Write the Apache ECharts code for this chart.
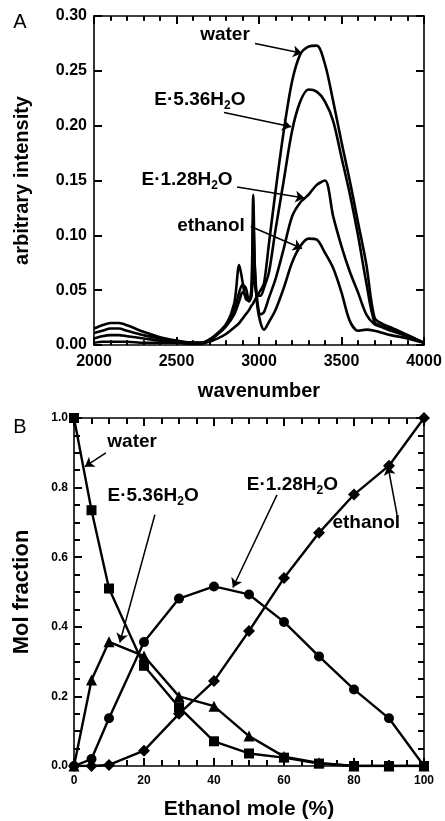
<!DOCTYPE html>
<html>
<head>
<meta charset="utf-8">
<script src="https://cdn.jsdelivr.net/npm/echarts@6/dist/echarts.min.js"></script>
<style>
  html, body { margin: 0; padding: 0; background: #fff; }
  #chart { width: 445px; height: 821px; }
</style>
</head>
<body>
<div id="chart"></div>
<script>
// panel A: spectra
const wavenumber = [2000, 2050, 2100, 2150, 2200, 2300, 2400, 2500, 2600, 2650, 2700, 2750, 2800, 2850, 2880, 2900, 2920, 2940, 2955, 2965, 2975, 2990, 3010, 3030, 3060, 3100, 3150, 3200, 3250, 3300, 3350, 3400, 3450, 3500, 3550, 3600, 3650, 3700, 3750, 3800, 3900, 4000];
const waterSpec = [0.015, 0.018, 0.020, 0.020, 0.018, 0.012, 0.007, 0.004, 0.002, 0.002, 0.003, 0.006, 0.010, 0.016, 0.020, 0.024, 0.028, 0.032, 0.036, 0.038, 0.041, 0.045, 0.050, 0.056, 0.092, 0.140, 0.195, 0.240, 0.265, 0.272, 0.273, 0.256, 0.222, 0.185, 0.150, 0.112, 0.074, 0.025, 0.019, 0.016, 0.009, 0.002];
const e536Spec = [0.011, 0.013, 0.015, 0.015, 0.013, 0.009, 0.006, 0.003, 0.002, 0.002, 0.005, 0.010, 0.017, 0.028, 0.040, 0.048, 0.045, 0.040, 0.045, 0.080, 0.055, 0.045, 0.045, 0.052, 0.066, 0.105, 0.150, 0.195, 0.222, 0.233, 0.231, 0.222, 0.204, 0.171, 0.138, 0.100, 0.057, 0.021, 0.017, 0.015, 0.009, 0.002];
const e128Spec = [0.006, 0.008, 0.009, 0.009, 0.008, 0.006, 0.004, 0.003, 0.002, 0.002, 0.005, 0.011, 0.019, 0.032, 0.048, 0.055, 0.052, 0.040, 0.048, 0.115, 0.070, 0.040, 0.028, 0.030, 0.043, 0.060, 0.088, 0.117, 0.130, 0.137, 0.146, 0.150, 0.117, 0.090, 0.067, 0.048, 0.028, 0.019, 0.016, 0.013, 0.008, 0.002];
const ethanolSpec = [0.002, 0.003, 0.003, 0.003, 0.003, 0.002, 0.002, 0.002, 0.001, 0.001, 0.004, 0.010, 0.018, 0.038, 0.073, 0.058, 0.042, 0.040, 0.055, 0.137, 0.070, 0.035, 0.020, 0.014, 0.021, 0.032, 0.052, 0.075, 0.090, 0.097, 0.096, 0.084, 0.070, 0.048, 0.022, 0.013, 0.014, 0.013, 0.011, 0.009, 0.006, 0.002];

// panel B: mol fractions
const ethanolMole = [0, 5, 10, 20, 30, 40, 50, 60, 70, 80, 90, 100];
const waterFrac = [1.0, 0.735, 0.51, 0.288, 0.169, 0.071, 0.036, 0.024, 0.007, 0, 0, 0];
const e536Frac = [0, 0.247, 0.357, 0.316, 0.20, 0.172, 0.086, 0.027, 0.009, 0, 0, 0];
const e128Frac = [0, 0.02, 0.137, 0.356, 0.481, 0.516, 0.493, 0.414, 0.315, 0.22, 0.137, 0];
const ethanolFrac = [0, 0, 0.003, 0.044, 0.15, 0.244, 0.388, 0.54, 0.67, 0.78, 0.863, 1.0];

// axis ranges [min, max, major step, minor step]
const axisAx = [2000, 4000, 500, 100];
const axisAy = [0, 0.30, 0.05, 0];
const axisBx = [0, 100, 20, 5];
const axisBy = [0, 1.0, 0.2, 0.05];

const FONT = "'Liberation Sans', Arial, sans-serif";
const INK = '#000';

function pairs(xs, ys) { return xs.map((x, i) => [x, ys[i]]); }

function steps(r, step) {
  const out = [];
  if (!step) return out;
  const n = Math.round((r[1] - r[0]) / step);
  for (let i = 0; i <= n; i++) out.push(r[0] + i * step);
  return out;
}

// arrows plus tick segments share one markLine per series
function marks(arrowList, tickList) {
  const data = arrowList.map(a => [{ coord: a[0] }, { coord: a[1], symbol: 'arrow' }])
    .concat((tickList || []).map(t => [{ coord: t[0], lineStyle: { width: t[2] } }, { coord: t[1], symbol: 'none' }]));
  return {
    silent: true,
    symbol: ['none', 'arrow'],
    symbolSize: 9,
    precision: 6,
    label: { show: false },
    lineStyle: { color: INK, width: 1.5, type: 'solid' },
    emphasis: { disabled: true },
    data
  };
}

// inward ticks on all four sides, lengths given in pixels and turned into data units
function tickSegs(rx, ry, pxX, pxY, majLen, minLen, yMinor) {
  const segs = [];
  [[steps(rx, rx[2]), majLen], [steps(rx, rx[3]), minLen]].forEach(([vals, len]) => {
    vals.forEach(v => {
      const d = len / pxY;
      segs.push([[v, ry[0]], [v, ry[0] + d], 2]);
      segs.push([[v, ry[1]], [v, ry[1] - d], 2]);
    });
  });
  [[steps(ry, ry[2]), majLen], [steps(ry, yMinor ? ry[3] : 0), minLen]].forEach(([vals, len]) => {
    vals.forEach(v => {
      const d = len / pxX;
      segs.push([[rx[0], v], [rx[0] + d, v], 2]);
      segs.push([[rx[1], v], [rx[1] - d, v], 2]);
    });
  });
  return segs;
}

function axis(grid, pos, r, labelOpt, nameOpt) {
  return Object.assign({
    type: 'value', gridIndex: grid, position: pos, min: r[0], max: r[1], interval: r[2],
    axisLine: { show: true, onZero: false, lineStyle: { color: INK, width: 1.6 } },
    axisTick: { show: true, inside: true, length: 8, lineStyle: { color: INK, width: 2 } },
    minorTick: { show: r[3] > 0, splitNumber: r[3] ? Math.round(r[2] / r[3]) : 5, length: 5,
      lineStyle: { color: INK, width: 1.6 } },
    splitLine: { show: false },
    axisLabel: labelOpt || { show: false }
  }, nameOpt || {});
}

let chart = echarts.init(document.getElementById('chart'));

const labA = { show: true, color: INK, fontFamily: FONT, fontWeight: 'bold', fontSize: 16, formatter: v => String(v) };
const labB = { show: true, color: INK, fontFamily: FONT, fontWeight: 'bold', fontSize: 12, formatter: v => String(v) };
const nameStyle = size => ({ color: INK, fontFamily: FONT, fontWeight: 'bold', fontSize: size });

const specLine = { color: INK, width: 2.6 };

// plot boxes: A 330 x 329 px, B 350 x 349 px
const pxA = [330 / (axisAx[1] - axisAx[0]), 329 / (axisAy[1] - axisAy[0])];
const pxB = [350 / (axisBx[1] - axisBx[0]), 349 / (axisBy[1] - axisBy[0])];
const ticksA = tickSegs(axisAx, axisAy, pxA[0], pxA[1], 7, 4, false);
const ticksB = tickSegs(axisBx, axisBy, pxB[0], pxB[1], 8, 6, true);

let option = {
  animation: false,
  backgroundColor: '#fff',
  grid: [
    { left: 94, right: 21, top: 16, bottom: 476 },
    { left: 74, right: 21, top: 418, bottom: 54 }
  ],
  xAxis: [
    axis(0, 'bottom', axisAx, Object.assign({ margin: 9 }, labA),
      { name: 'wavenumber', nameLocation: 'middle', nameGap: 36, nameTextStyle: nameStyle(20) }),
    axis(1, 'bottom', axisBx, Object.assign({ margin: 9 }, labB),
      { name: 'Ethanol mole (%)', nameLocation: 'middle', nameGap: 33, nameTextStyle: nameStyle(21) }),
    axis(0, 'top', axisAx),
    axis(1, 'top', axisBx)
  ],
  yAxis: [
    axis(0, 'left', axisAy, Object.assign({ margin: 7 }, labA, { formatter: v => v.toFixed(2) }),
      { name: 'arbitrary intensity', nameLocation: 'middle', nameGap: 62, nameTextStyle: nameStyle(20) }),
    axis(1, 'left', axisBy, Object.assign({ margin: 6 }, labB, { formatter: v => v.toFixed(1) }),
      { name: 'Mol fraction', nameLocation: 'middle', nameGap: 41, nameTextStyle: nameStyle(22) }),
    axis(0, 'right', axisAy),
    axis(1, 'right', axisBy)
  ],
  series: [
    { name: 'water', type: 'line', xAxisIndex: 0, yAxisIndex: 0, data: pairs(wavenumber, waterSpec),
      symbol: 'none', smooth: 0.3, lineStyle: specLine,
      markLine: marks([[[2976, 0.275], [3261, 0.266]]], ticksA) },
    { name: 'E·5.36H2O', type: 'line', xAxisIndex: 0, yAxisIndex: 0, data: pairs(wavenumber, e536Spec),
      symbol: 'none', smooth: 0.3, lineStyle: specLine,
      markLine: marks([[[2788, 0.212], [3195, 0.199]]]) },
    { name: 'E·1.28H2O', type: 'line', xAxisIndex: 0, yAxisIndex: 0, data: pairs(wavenumber, e128Spec),
      symbol: 'none', smooth: 0.3, lineStyle: specLine,
      markLine: marks([[[2867, 0.144], [3275, 0.134]]]) },
    { name: 'ethanol', type: 'line', xAxisIndex: 0, yAxisIndex: 0, data: pairs(wavenumber, ethanolSpec),
      symbol: 'none', smooth: 0.3, lineStyle: specLine,
      markLine: marks([[[2950, 0.108], [3261, 0.088]]]) },

    { name: 'water B', type: 'line', xAxisIndex: 1, yAxisIndex: 1, data: pairs(ethanolMole, waterFrac),
      symbol: 'rect', symbolSize: 10, itemStyle: { color: INK }, lineStyle: { color: INK, width: 2.4 },
      markLine: marks([[[9.1, 0.90], [3.1, 0.86]]], ticksB) },
    { name: 'E536 B', type: 'line', xAxisIndex: 1, yAxisIndex: 1, data: pairs(ethanolMole, e536Frac),
      symbol: 'triangle', symbolSize: 11, itemStyle: { color: INK }, lineStyle: { color: INK, width: 2.4 },
      markLine: marks([[[23.1, 0.722], [13.1, 0.355]]]) },
    { name: 'E128 B', type: 'line', xAxisIndex: 1, yAxisIndex: 1, data: pairs(ethanolMole, e128Frac),
      symbol: 'circle', symbolSize: 10, itemStyle: { color: INK }, lineStyle: { color: INK, width: 2.4 },
      markLine: marks([[[58, 0.779], [45.4, 0.513]]]) },
    { name: 'ethanol B', type: 'line', xAxisIndex: 1, yAxisIndex: 1, data: pairs(ethanolMole, ethanolFrac),
      symbol: 'diamond', symbolSize: 12, itemStyle: { color: INK }, lineStyle: { color: INK, width: 2.4 },
      markLine: marks([[[92.3, 0.722], [89.7, 0.862]]]) }
  ]
};
chart.setOption(option);

// text labels, placed in data coordinates
const RICH = {
  m: { fontFamily: FONT, fontWeight: 'bold', fontSize: 19, color: INK },
  s: { fontFamily: FONT, fontWeight: 'bold', fontSize: 12, color: INK, padding: [12, 0, 0, 0] }
};
const notesA = [
  ['{m|water}', [2794, 0.283]],
  ['{m|E·5.36H}{s|2}{m|O}', [2642, 0.224]],
  ['{m|E·1.28H}{s|2}{m|O}', [2564, 0.151]],
  ['{m|ethanol}', [2709, 0.109]]
];
const notesB = [
  ['{m|water}', [16.6, 0.933]],
  ['{m|E·5.36H}{s|2}{m|O}', [22.6, 0.777]],
  ['{m|E·1.28H}{s|2}{m|O}', [62.4, 0.808]],
  ['{m|ethanol}', [83.5, 0.70]]
];

let graphics = [
  { type: 'text', x: 20, y: 22, style: { text: 'A', fontFamily: FONT, fontSize: 20, fill: INK, align: 'center', verticalAlign: 'middle' } },
  { type: 'text', x: 20, y: 427, style: { text: 'B', fontFamily: FONT, fontSize: 20, fill: INK, align: 'center', verticalAlign: 'middle' } }
];
[[0, notesA], [1, notesB]].forEach(([g, notes]) => {
  notes.forEach(([txt, at]) => {
    const p = chart.convertToPixel({ gridIndex: g }, at);
    graphics.push({ type: 'text', x: p[0], y: p[1], z: 60,
      style: { text: txt, rich: RICH, align: 'center', verticalAlign: 'middle' } });
  });
});
chart.setOption({ graphic: graphics });
</script>
</body>
</html>
